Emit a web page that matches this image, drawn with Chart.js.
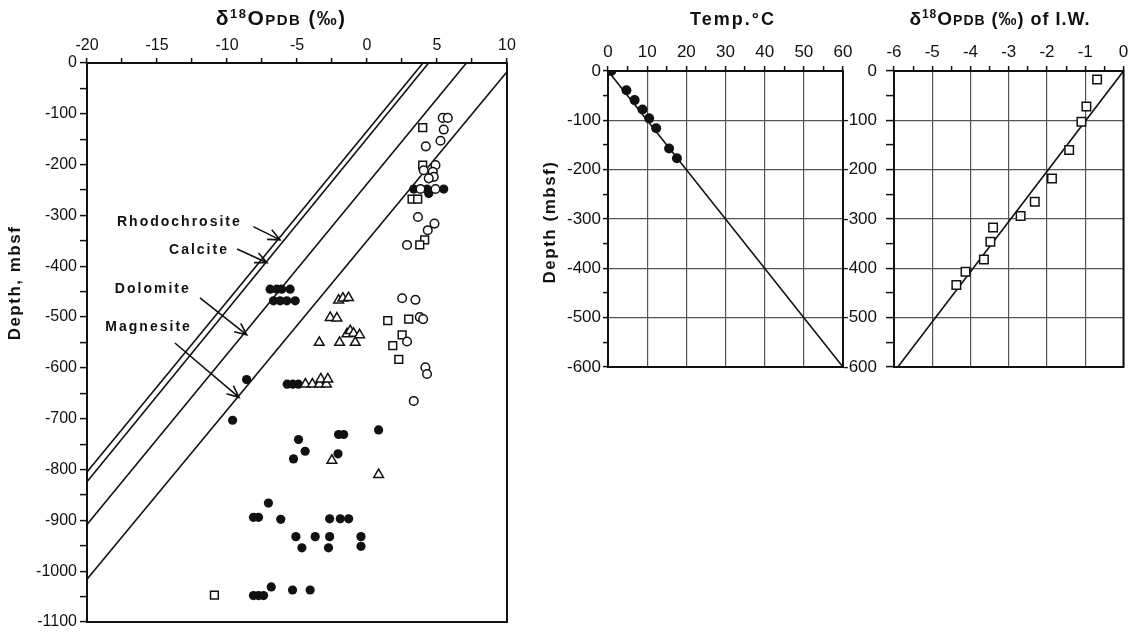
<!DOCTYPE html>
<html>
<head>
<meta charset="utf-8">
<script src="https://cdn.jsdelivr.net/npm/chart.js@4.4.1/dist/chart.umd.min.js"></script>
<style>
  html, body { margin: 0; padding: 0; background: #fff; }
  #wrap { position: relative; width: 1131px; height: 633px; overflow: hidden; }
  #wrap canvas { position: absolute; top: 0; }
</style>
</head>
<body>
<div id="wrap">
  <canvas id="isoChart" width="530" height="633" style="left:0"></canvas>
  <canvas id="tempChart" width="335" height="420" style="left:530px"></canvas>
  <canvas id="iwChart" width="301" height="420" style="left:830px"></canvas>
</div>
<script>
const FONT = '"Liberation Sans", Arial, Helvetica, sans-serif';
const INK = '#111';

// ---- left panel: carbonate d18O vs depth ----
const filledCircleX = [3.34, 4.29, 5.48, 4.41,
  -6.92, -6.44, -6.09, -5.49, -6.68, -6.21, -5.73, -5.13,
  -8.6, -9.6, -5.7, -5.3, -4.9,
  0.83, -2.03, -1.67, -4.89, -4.42, -5.25, -2.07,
  -7.04, -8.11, -7.75, -6.16, -2.67, -1.91, -1.31,
  -5.08, -3.70, -2.67, -0.43, -4.65, -2.75, -0.43,
  -6.84, -8.11, -7.75, -7.39, -5.32, -4.06];
const filledCircleDepth = [-248, -248, -248, -257,
  -445, -445, -445, -445, -468, -468, -468, -468,
  -623, -703, -632, -632, -632,
  -722, -731, -731, -741, -764, -779, -769,
  -866, -894, -894, -898, -897, -897, -897,
  -932, -932, -932, -932, -954, -954, -951,
  -1031, -1048, -1048, -1048, -1037, -1037];

const openCircleX = [5.41, 5.77, 5.48, 5.25, 4.20, 4.89, 4.05, 4.70, 4.77, 4.41,
  3.82, 4.89, 3.64, 4.82, 4.34, 2.86, 2.51, 3.46, 3.77, 4.01, 2.86, 4.17, 4.29, 3.34];
const openCircleDepth = [-108, -108, -131, -153, -164, -201, -211, -214, -224, -227,
  -248, -248, -303, -316, -329, -358, -463, -466, -500, -504, -548, -599, -612, -665];

const squareX = [3.98, 3.98, 3.22, 3.62, 4.12, 3.77, 1.48, 2.98, 2.51, 1.84, 2.27, -10.9];
const squareDepth = [-127, -201, -268, -268, -348, -358, -507, -504, -535, -556, -583, -1047];

const triangleX = [-2.03, -1.72, -1.32, -2.63, -2.15,
  -3.41, -1.96, -1.43, -1.2, -0.96, -0.84, -0.53,
  -4.4, -3.9, -3.4, -2.9, -3.3, -2.8, -2.51, 0.83];
const triangleDepth = [-467, -463, -462, -501, -502,
  -550, -550, -533, -527, -532, -550, -535,
  -632, -632, -632, -632, -622, -622, -782, -810];

// equilibrium lines (two end points each)
const mineralNames = ['Rhodochrosite', 'Calcite', 'Dolomite', 'Magnesite'];
const mineralLineX = [[4.0, -20], [4.4, -20], [7.1, -20], [10, -20]];
const mineralLineDepth = [[0, -805], [0, -824], [0, -908], [-17, -1016]];
const mineralLabelX = [-13.4, -12.0, -15.3, -15.6];
const mineralLabelDepth = [-314, -368, -445, -520];
const arrowTailX = [-8.12, -9.28, -11.93, -13.72];
const arrowTailDepth = [-322, -366, -462, -551];
const arrowHeadX = [-6.21, -7.14, -8.59, -9.14];
const arrowHeadDepth = [-348, -393, -535, -658];

// ---- middle panel: temperature ----
const tempC = [0.85, 4.7, 6.8, 8.8, 10.5, 12.3, 15.6, 17.6];
const tempDepth = [0, -39, -59, -78, -96, -116, -157, -177];
const tempLineX = [0, 60];
const tempLineDepth = [0, -600];

// ---- right panel: d18O of interstitial water ----
const iwD18O = [-0.69, -0.97, -1.10, -1.42, -1.87, -2.32, -2.69, -3.41, -3.48, -3.65, -4.13, -4.37];
const iwDepth = [-17, -72, -103, -160, -218, -265, -294, -317, -346, -382, -407, -434];
const iwLineX = [0, -5.9];
const iwLineDepth = [0, -600];

const pts = (xs, ys) => xs.map((x, i) => ({ x: x, y: ys[i] }));

function drawRich(ctx, parts, cx, baseY) {
  let w = 0;
  parts.forEach(p => { ctx.font = p.font; w += ctx.measureText(p.text).width; });
  let x = cx - w / 2;
  parts.forEach(p => {
    ctx.font = p.font;
    ctx.fillText(p.text, x, baseY + (p.dy || 0));
    x += ctx.measureText(p.text).width;
  });
}

function drawArrow(ctx, x1, y1, x2, y2) {
  const ang = Math.atan2(y2 - y1, x2 - x1);
  const len = 13, spread = 0.42;
  ctx.beginPath();
  ctx.moveTo(x1, y1);
  ctx.lineTo(x2, y2);
  ctx.moveTo(x2 - len * Math.cos(ang - spread), y2 - len * Math.sin(ang - spread));
  ctx.lineTo(x2, y2);
  ctx.lineTo(x2 - len * Math.cos(ang + spread), y2 - len * Math.sin(ang + spread));
  ctx.stroke();
}

// box, titles, arrows and labels
const decor = {
  id: 'decor',
  afterDraw(chart, args, opts) {
    const ctx = chart.ctx, a = chart.chartArea;
    const sx = chart.scales.x, sy = chart.scales.y;
    ctx.save();
    ctx.strokeStyle = INK;
    ctx.fillStyle = INK;
    ctx.lineWidth = 2;
    ctx.strokeRect(a.left, a.top, a.right - a.left, a.bottom - a.top);

    ctx.letterSpacing = opts.titleSpacing || '1px';
    ctx.textAlign = 'left';
    ctx.textBaseline = 'alphabetic';
    drawRich(ctx, opts.title, opts.titleX, opts.titleY);

    if (opts.yTitle) {
      ctx.save();
      ctx.translate(opts.yTitleX, opts.yTitleY);
      ctx.rotate(-Math.PI / 2);
      ctx.letterSpacing = '1.5px';
      ctx.font = 'bold 17px ' + FONT;
      ctx.textAlign = 'center';
      ctx.textBaseline = 'middle';
      ctx.fillText(opts.yTitle, 0, 0);
      ctx.restore();
    }

    if (opts.arrows) {
      ctx.lineWidth = 1.6;
      arrowTailX.forEach((_, i) => {
        drawArrow(ctx,
          sx.getPixelForValue(arrowTailX[i]), sy.getPixelForValue(arrowTailDepth[i]),
          sx.getPixelForValue(arrowHeadX[i]), sy.getPixelForValue(arrowHeadDepth[i]));
      });
      ctx.letterSpacing = '2px';
      ctx.font = 'bold 14px ' + FONT;
      ctx.textAlign = 'center';
      ctx.textBaseline = 'middle';
      mineralNames.forEach((name, i) => {
        ctx.fillText(name, sx.getPixelForValue(mineralLabelX[i]), sy.getPixelForValue(mineralLabelDepth[i]));
      });
    }
    ctx.restore();
  }
};

function fixSize(size) {
  return scale => {
    if (scale.isHorizontal()) scale.height = size; else scale.width = size;
    scale.paddingLeft = 0; scale.paddingRight = 0;
    scale.paddingTop = 0; scale.paddingBottom = 0;
  };
}

function baseOptions(cfg) {
  return {
    responsive: false,
    animation: false,
    events: [],
    layout: { padding: cfg.padding },
    plugins: { legend: { display: false }, tooltip: { enabled: false }, decor: cfg.decor },
    scales: {
      x: {
        type: 'linear', position: 'top',
        min: cfg.xMin, max: cfg.xMax,
        afterFit: fixSize(cfg.xSize),
        border: { display: false },
        grid: {
          drawOnChartArea: cfg.gridOn,
          color: ctx => (cfg.gridOn && ctx.tick && cfg.isMajorX(ctx.tick.value)) ? '#555' : 'rgba(0,0,0,0)',
          lineWidth: 1.2,
          tickColor: INK, tickLength: 5, tickWidth: 1.5
        },
        ticks: {
          stepSize: cfg.xStep, autoSkip: false, maxRotation: 0, padding: 3,
          color: INK, font: { family: FONT, size: cfg.fontSize },
          callback: v => cfg.isMajorX(v) ? String(Math.round(v)) : ''
        }
      },
      y: {
        type: 'linear', position: 'left',
        min: cfg.yMin, max: 0,
        afterFit: fixSize(cfg.ySize),
        border: { display: false },
        grid: {
          drawOnChartArea: cfg.gridOn,
          color: ctx => (cfg.gridOn && ctx.tick && ctx.tick.value % 100 === 0) ? '#555' : 'rgba(0,0,0,0)',
          lineWidth: 1.2,
          tickColor: INK, tickLength: cfg.yTick, tickWidth: 1.5
        },
        ticks: {
          stepSize: 50, autoSkip: false, padding: cfg.yPad,
          color: INK, font: { family: FONT, size: cfg.fontSize },
          callback: v => v % 100 === 0 ? String(v) : ''
        }
      }
    }
  };
}

const lineStyle = { showLine: true, pointRadius: 0, borderColor: INK, borderWidth: 1.6, fill: false };
const openStyle = { borderColor: INK, backgroundColor: '#fff', pointBorderWidth: 1.5 };

const leftDatasets = mineralNames.map((name, i) => Object.assign({
  label: name, data: pts(mineralLineX[i], mineralLineDepth[i])
}, lineStyle));
leftDatasets.unshift(
  Object.assign({ label: 'open circles', data: pts(openCircleX, openCircleDepth), pointStyle: 'circle', pointRadius: 4.3 }, openStyle),
  Object.assign({ label: 'squares', data: pts(squareX, squareDepth), pointStyle: 'rect', pointRadius: 5.5 }, openStyle),
  Object.assign({ label: 'triangles', data: pts(triangleX, triangleDepth), pointStyle: 'triangle', pointRadius: 5.6 }, openStyle),
  { label: 'filled circles', data: pts(filledCircleX, filledCircleDepth), pointStyle: 'circle', pointRadius: 4.6,
    backgroundColor: INK, borderColor: INK, pointBorderWidth: 0 }
);

const titleFont = size => 'bold ' + size + 'px ' + FONT;
const d18Title = [
  { text: '\u03b4', font: titleFont(21) },
  { text: '18', font: titleFont(13), dy: -7 },
  { text: 'O', font: titleFont(21) },
  { text: 'PDB', font: titleFont(15) },
  { text: ' (\u2030)', font: titleFont(20) }
];
const iwTitle = [
  { text: '\u03b4', font: titleFont(19) },
  { text: '18', font: titleFont(12), dy: -7 },
  { text: 'O', font: titleFont(19) },
  { text: 'PDB', font: titleFont(14) },
  { text: ' (\u2030) of I.W.', font: titleFont(18) }
];

new Chart(document.getElementById('isoChart'), {
  type: 'scatter',
  data: { datasets: leftDatasets },
  options: baseOptions({
    padding: { left: 0, top: 0, right: 23, bottom: 11 },
    xMin: -20, xMax: 10, xStep: 2.5, xSize: 63,
    isMajorX: v => Math.abs(v % 5) < 1e-6,
    yMin: -1100, ySize: 87, yTick: 7, yPad: 3,
    gridOn: false, fontSize: 16,
    decor: { title: d18Title, titleSpacing: '1.5px', titleX: 281, titleY: 25, yTitle: 'Depth, mbsf', yTitleX: 15, yTitleY: 283, arrows: true }
  }),
  plugins: [decor]
});

new Chart(document.getElementById('tempChart'), {
  type: 'scatter',
  data: {
    datasets: [
      { label: 'temperature', data: pts(tempC, tempDepth), pointStyle: 'circle', pointRadius: 5,
        backgroundColor: INK, borderColor: INK, pointBorderWidth: 0 },
      Object.assign({ label: 'gradient', data: pts(tempLineX, tempLineDepth) }, lineStyle)
    ]
  },
  options: baseOptions({
    padding: { left: 0, top: 0, right: 22, bottom: 53 },
    xMin: 0, xMax: 60, xStep: 5, xSize: 71,
    isMajorX: v => Math.abs(v % 10) < 1e-6,
    yMin: -600, ySize: 78, yTick: 5, yPad: 2,
    gridOn: true, fontSize: 17,
    decor: { title: [{ text: 'Temp.\u00b0C', font: titleFont(18) }], titleSpacing: '2px', titleX: 203, titleY: 25,
      yTitle: 'Depth (mbsf)', yTitleX: 20, yTitleY: 222 }
  }),
  plugins: [decor]
});

new Chart(document.getElementById('iwChart'), {
  type: 'scatter',
  data: {
    datasets: [
      Object.assign({ label: 'pore water', data: pts(iwD18O, iwDepth), pointStyle: 'rect', pointRadius: 6 }, openStyle),
      Object.assign({ label: 'trend', data: pts(iwLineX, iwLineDepth) }, lineStyle)
    ]
  },
  options: baseOptions({
    padding: { left: 0, top: 0, right: 1, bottom: 53 },
    xMin: -6, xMax: 0, xStep: 0.5, xSize: 71,
    isMajorX: v => Math.abs(v - Math.round(v)) < 1e-6,
    yMin: -600, ySize: 64, yTick: 8, yPad: 9,
    gridOn: true, fontSize: 17,
    decor: { title: iwTitle, titleX: 170, titleY: 25 }
  }),
  plugins: [decor]
});
</script>
</body>
</html>
